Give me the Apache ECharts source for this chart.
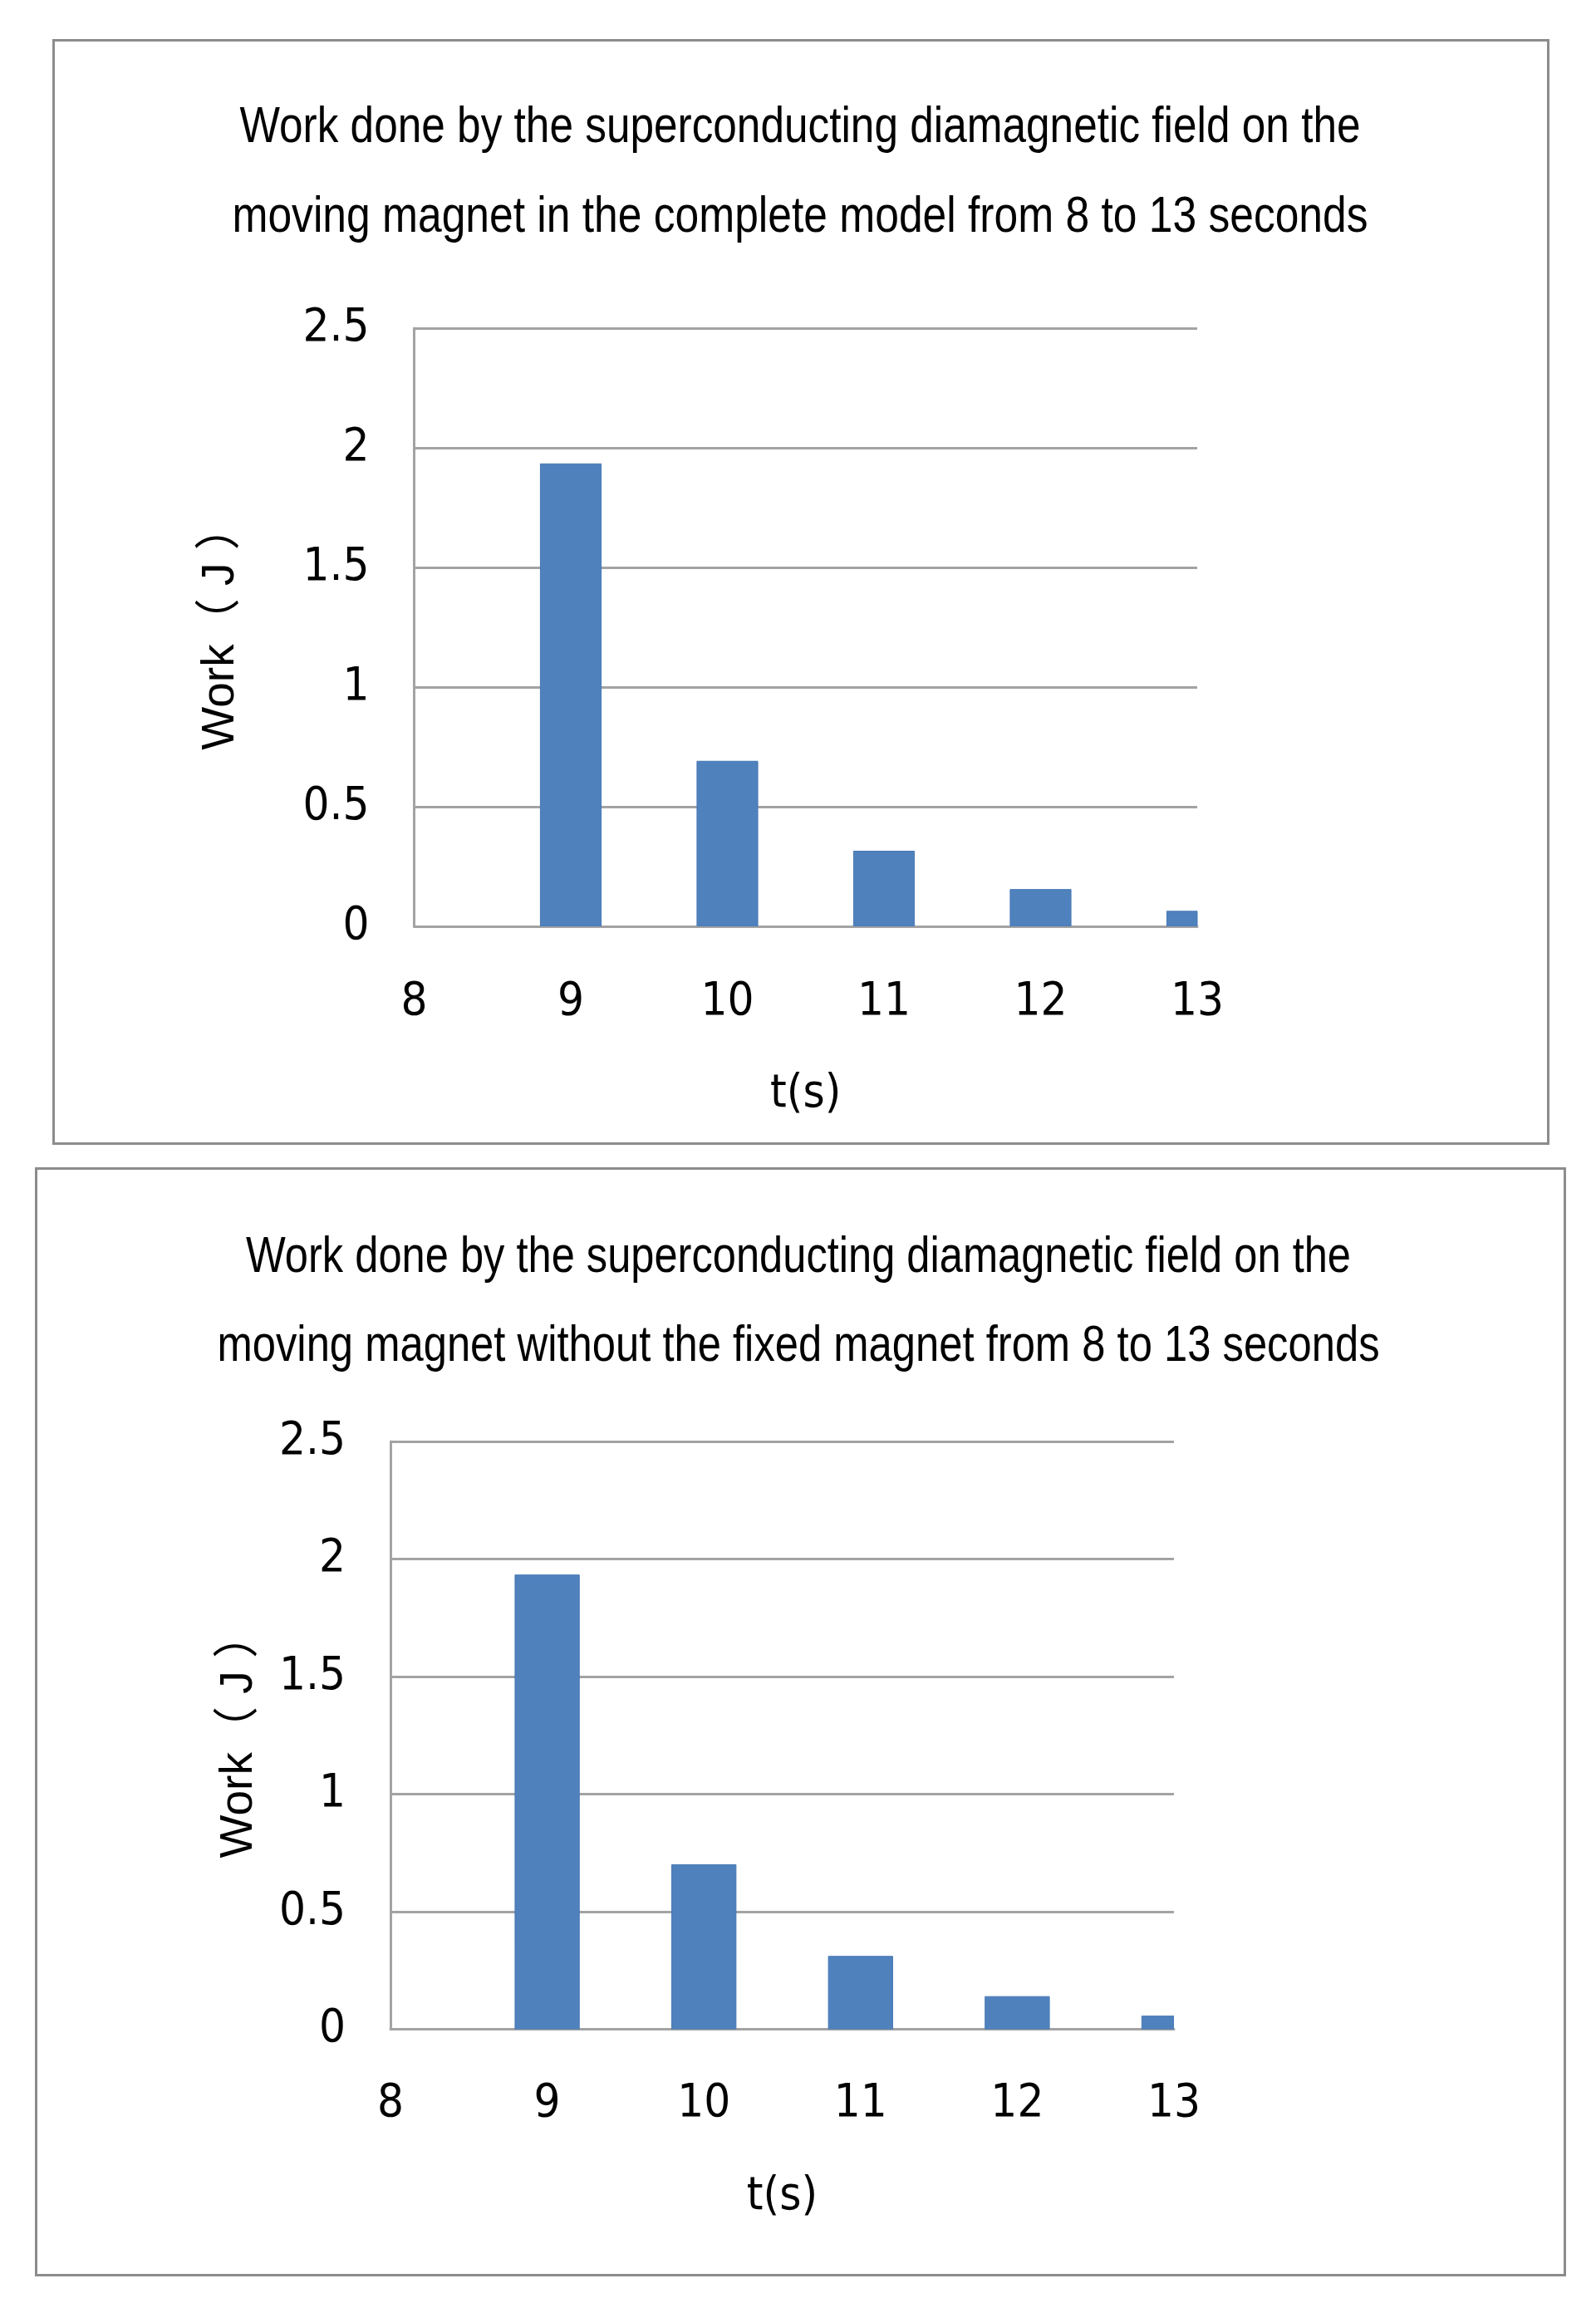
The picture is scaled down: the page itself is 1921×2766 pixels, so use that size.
<!DOCTYPE html>
<html>
<head>
<meta charset="utf-8">
<script src="https://cdn.jsdelivr.net/npm/echarts@6/dist/echarts.min.js"></script>
<style>
html,body{margin:0;padding:0;background:#fff;}
#c1{position:absolute;left:63px;top:47px;width:1802px;height:1331px;}
#c2{position:absolute;left:42px;top:1405px;width:1843px;height:1335px;}
</style>
</head>
<body>
<div id="c1"></div>
<div id="c2"></div>
<script>
// ---- data ----
const timeSeconds = [9, 10, 11, 12, 13];
const workCompleteModel = [1.933, 0.69, 0.314, 0.154, 0.063];
const workWithoutFixedMagnet = [1.932, 0.70, 0.31, 0.139, 0.056];
const xTicks = [8, 9, 10, 11, 12, 13];
const yTicks = [0, 0.5, 1, 1.5, 2, 2.5];
const title1Lines = ['Work done by the superconducting diamagnetic field on the',
                     'moving magnet in the complete model from 8 to 13 seconds'];
const title2Lines = ['Work done by the superconducting diamagnetic field on the',
                     'moving magnet without the fixed magnet from 8 to 13 seconds'];
const xName = 't(s)';
const yName = 'Work（ J ）';

const NARROW = "'Liberation Sans Narrow', 'Arial Narrow', 'DejaVu Sans Condensed', 'Liberation Sans', sans-serif";
const TITLE_FONT_FAMILY = "'Liberation Sans', Arial, sans-serif";
const TITLE_FONT_SIZE = 62;
const GRID_COLOR = '#a3a3a3';
const BAR_COLOR = '#4F81BD';

const measureCtx = document.createElement('canvas').getContext('2d');
function textWidth(str, size, family) {
  measureCtx.font = size + 'px ' + family;
  return measureCtx.measureText(str).width;
}

function titleGraphics(lines, cfg) {
  return lines.map((line, i) => {
    const w = textWidth(line, TITLE_FONT_SIZE, TITLE_FONT_FAMILY);
    return {
      type: 'text',
      x: cfg.titleCx,
      y: cfg.titleY[i],
      scaleX: cfg.titleW[i] / w,
      silent: true,
      style: {
        text: line,
        fontFamily: TITLE_FONT_FAMILY,
        fontSize: TITLE_FONT_SIZE,
        fill: '#000',
        align: 'center',
        verticalAlign: 'middle'
      }
    };
  });
}

function buildOption(cfg, lines, values) {
  return {
    animation: false,
    backgroundColor: '#fff',
    graphic: [{
      type: 'rect',
      shape: { x: 1.5, y: 1.5, width: cfg.w - 3, height: cfg.h - 3 },
      style: { fill: 'none', stroke: '#8c8c8c', lineWidth: 3 },
      silent: true
    }].concat(titleGraphics(lines, cfg)),
    grid: { left: cfg.gl, top: cfg.gt, width: cfg.gw, height: cfg.gh },
    xAxis: {
      type: 'value',
      min: xTicks[0], max: xTicks[xTicks.length - 1],
      interval: xTicks[1] - xTicks[0],
      name: xName, nameLocation: 'middle', nameGap: cfg.xNameGap,
      nameTextStyle: { fontFamily: NARROW, fontSize: 56, color: '#000' },
      axisLine: { show: true, lineStyle: { color: GRID_COLOR, width: 3 } },
      axisTick: { show: false },
      splitLine: { show: false },
      axisLabel: { fontFamily: NARROW, fontSize: 56, color: '#000', margin: cfg.xLabelMargin }
    },
    yAxis: {
      type: 'value',
      min: yTicks[0], max: yTicks[yTicks.length - 1],
      interval: yTicks[1] - yTicks[0],
      name: yName, nameLocation: 'middle', nameGap: cfg.yNameGap,
      nameTextStyle: { fontFamily: "'Liberation Sans', 'Noto Sans CJK SC', sans-serif", fontSize: 55, color: '#000' },
      axisLine: { show: true, lineStyle: { color: GRID_COLOR, width: 3 } },
      axisTick: { show: false },
      splitLine: { show: true, lineStyle: { color: GRID_COLOR, width: 3 } },
      axisLabel: { fontFamily: NARROW, fontSize: 56, color: '#000', margin: 54 }
    },
    series: [{
      type: 'custom',
      data: timeSeconds.map((t, i) => [t, values[i]]),
      encode: { x: 0, y: 1 },
      clip: true,
      renderItem: function (params, api) {
        const top = api.coord([api.value(0), api.value(1)]);
        const base = api.coord([api.value(0), 0]);
        const w = api.size([1, 0])[0] * cfg.barRatio;
        const cs = params.coordSys;
        const rect = echarts.graphic.clipRectByRect(
          { x: top[0] - w / 2, y: top[1], width: w, height: base[1] - top[1] },
          { x: cs.x, y: cs.y, width: cs.width, height: cs.height + 1 }
        );
        return rect && {
          type: 'rect',
          shape: rect,
          style: { fill: BAR_COLOR, stroke: '#4778b4', lineWidth: 1 }
        };
      }
    }]
  };
}

const cfg1 = { w: 1802, h: 1331, gl: 435.5, gt: 348, gw: 942.5, gh: 720,
  titleCx: 900, titleY: [106.5, 215], titleW: [1349, 1367],
  xNameGap: 174, xLabelMargin: 63, yNameGap: 205, barRatio: 0.388 };
const cfg2 = { w: 1843, h: 1335, gl: 428, gt: 330, gw: 943, gh: 707.5,
  titleCx: 919, titleY: [108.5, 216], titleW: [1330, 1399],
  xNameGap: 174, xLabelMargin: 62, yNameGap: 155, barRatio: 0.41 };

const ch1 = echarts.init(document.getElementById('c1'), null, { renderer: 'canvas' });
ch1.setOption(buildOption(cfg1, title1Lines, workCompleteModel));
const ch2 = echarts.init(document.getElementById('c2'), null, { renderer: 'canvas' });
ch2.setOption(buildOption(cfg2, title2Lines, workWithoutFixedMagnet));
</script>
</body>
</html>
